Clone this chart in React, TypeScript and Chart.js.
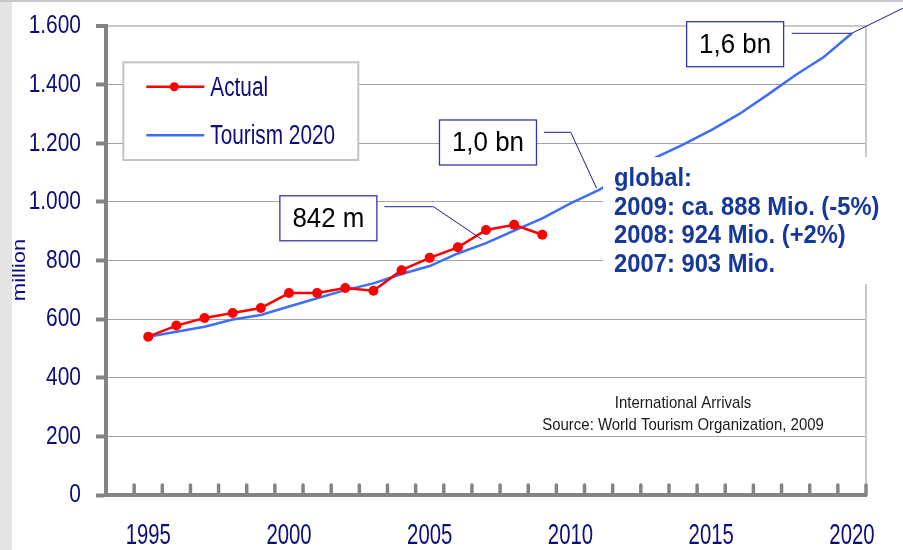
import { useEffect, useRef } from 'react';
import { Chart, registerables } from 'chart.js';

Chart.register(...registerables);

// ---------- data ----------
const YEARS_ACTUAL = [1995, 1996, 1997, 1998, 1999, 2000, 2001, 2002, 2003, 2004, 2005, 2006, 2007, 2008, 2009];
const ACTUAL = [540, 578, 604, 621, 638, 689, 689, 706, 697, 767, 809, 845, 904, 922, 888];
const YEARS_FORECAST = [1995, 1996, 1997, 1998, 1999, 2000, 2001, 2002, 2003, 2004, 2005, 2006, 2007, 2008, 2009, 2010, 2011, 2012, 2013, 2014, 2015, 2016, 2017, 2018, 2019, 2020];
const TOURISM_2020 = [540, 557, 574, 599, 614, 643, 671, 699, 722, 754, 781, 824, 859, 902, 944, 995, 1040, 1095, 1150, 1195, 1245, 1300, 1365, 1433, 1494, 1575];
const SERIES_NAMES = ['Actual', 'Tourism 2020'];
const Y_TICKS = [0, 200, 400, 600, 800, 1000, 1200, 1400, 1600];
const X_LABEL_YEARS = [1995, 2000, 2005, 2010, 2015, 2020];
const X_MIN = 1993.5;
const X_MAX = 2020.5;
const Y_TITLE = 'million';

// callouts: box centre (year, value) and leader path points (year, value)
const CALLOUT_TEXT = ['842 m', '1,0 bn', '1,6 bn'];
const CALLOUT_BOX = [[2001.4, 944], [2007.07, 1202.6], [2015.85, 1537.9]];
const CALLOUT_PATH = [
  [[2003.39, 983.6], [2005.13, 983.6], [2006.85, 872.3]],
  [[2009.06, 1237.3], [2010.01, 1237.3], [2010.93, 1046.3]],
  [[2017.86, 1575.1], [2019.99, 1575.1], [2021.81, 1660.4]],
];
const GLOBAL_NOTE = ['global:', '2009: ca. 888 Mio. (-5%)', '2008: 924 Mio. (+2%)', '2007: 903 Mio.'];
const GLOBAL_BOX = { year: 2011.16, top: 1153, bottom: 720 };
const SOURCE_NOTE = ['International Arrivals', 'Source: World Tourism Organization, 2009'];
const SOURCE_POS = { year: 2014, value: 296 };

// ---------- styles ----------
const RED = '#ff0000';
const BLUE = '#3f6ef5';
const NAVY = '#0c0c7c';
const AXIS_GRAY = '#838383';
const SANS = "'Liberation Sans', Arial, sans-serif";

function formatDE(v: number): string {
  if (v >= 1000) return Math.floor(v / 1000) + '.' + String(v % 1000).padStart(3, '0');
  return String(v);
}

function scaledText(ctx: CanvasRenderingContext2D, text: string, x: number, y: number, sx: number, align: CanvasTextAlign) {
  ctx.save();
  ctx.translate(x, y);
  ctx.scale(sx, 1);
  ctx.textAlign = align;
  ctx.fillText(text, 0, 0);
  ctx.restore();
}

const decor = {
  id: 'decor',
  beforeDraw(chart: any) {
    const ctx = chart.ctx as CanvasRenderingContext2D;
    ctx.save();
    ctx.fillStyle = '#ffffff';
    ctx.fillRect(0, 0, chart.width, chart.height);
    ctx.fillStyle = '#e4e4e4';
    ctx.fillRect(0, 0, 12, chart.height);
    ctx.fillStyle = '#c8c8c8';
    ctx.fillRect(0, 0, chart.width, 2);
    ctx.restore();
  },
  beforeDatasetsDraw(chart: any) {
    const ctx = chart.ctx as CanvasRenderingContext2D;
    const ca = chart.chartArea;
    const xs = chart.scales.x;
    const ys = chart.scales.y;
    ctx.save();
    ctx.strokeStyle = '#c8c8c8';
    ctx.lineWidth = 2;
    ctx.beginPath();
    ctx.moveTo(ca.right, ca.top);
    ctx.lineTo(ca.right, ca.bottom);
    ctx.stroke();

    // axis tick labels (condensed, like the original)
    ctx.fillStyle = NAVY;
    ctx.font = `25.5px ${SANS}`;
    ctx.textBaseline = 'alphabetic';
    ys.ticks.forEach((t: any) => {
      const py = ys.getPixelForValue(t.value);
      scaledText(ctx, formatDE(t.value), ca.left - 25, py + 7.3, 0.82, 'right');
    });
    ctx.font = `29px ${SANS}`;
    xs.ticks.forEach((t: any) => {
      const px = xs.getPixelForValue(t.value);
      scaledText(ctx, String(t.value), px, ca.bottom + 48.5, 0.7, 'center');
    });

    // axis title
    ctx.save();
    ctx.translate(18.5, (ca.top + ca.bottom) / 2 + 9.5);
    ctx.rotate(-Math.PI / 2);
    ctx.scale(1, 0.8);
    ctx.font = `22px ${SANS}`;
    ctx.textAlign = 'center';
    ctx.fillText(Y_TITLE, 0, 8);
    ctx.restore();

    ctx.restore();
  },
  afterDatasetsDraw(chart: any) {
    const ctx = chart.ctx as CanvasRenderingContext2D;
    const ca = chart.chartArea;
    const xs = chart.scales.x;
    const ys = chart.scales.y;
    ctx.save();

    // inward x ticks
    ctx.strokeStyle = AXIS_GRAY;
    ctx.lineWidth = 3.5;
    ctx.lineCap = 'round';
    for (let v = X_MIN + 1; v <= X_MAX + 0.001; v += 1) {
      const px = xs.getPixelForValue(v);
      ctx.beginPath();
      ctx.moveTo(px, ca.bottom);
      ctx.lineTo(px, ca.bottom - 10);
      ctx.stroke();
    }
    ctx.lineCap = 'butt';

    // global note box
    const gx = xs.getPixelForValue(GLOBAL_BOX.year);
    const gt = ys.getPixelForValue(GLOBAL_BOX.top);
    const gb = ys.getPixelForValue(GLOBAL_BOX.bottom);
    ctx.fillStyle = '#ffffff';
    ctx.fillRect(gx, gt, chart.width - gx, gb - gt);
    ctx.fillStyle = '#15389a';
    ctx.font = `bold 25px ${SANS}`;
    ctx.textBaseline = 'alphabetic';
    GLOBAL_NOTE.forEach((t, i) => scaledText(ctx, t, gx + 11, gt + 29 + i * 28.7, 0.95, 'left'));

    // legend
    const lx = ca.left + 17.3;
    const ly = ca.top + 36.3;
    const lw = 235;
    const lh = 97.7;
    ctx.fillStyle = '#ffffff';
    ctx.fillRect(lx, ly, lw, lh);
    ctx.strokeStyle = '#c4c4c4';
    ctx.lineWidth = 2;
    ctx.strokeRect(lx, ly, lw, lh);
    const rows = [24.4, 73];
    chart.data.datasets.forEach((ds: any, i: number) => {
      const cy = ly + rows[i];
      ctx.strokeStyle = ds.borderColor;
      ctx.lineWidth = 2.5;
      ctx.beginPath();
      ctx.moveTo(lx + 23, cy);
      ctx.lineTo(lx + 81, cy);
      ctx.stroke();
      if (ds.pointRadius > 0) {
        ctx.fillStyle = ds.pointBackgroundColor;
        ctx.beginPath();
        ctx.arc(lx + 51, cy, 4.5, 0, Math.PI * 2);
        ctx.fill();
      }
      ctx.fillStyle = NAVY;
      ctx.font = `27px ${SANS}`;
      ctx.textBaseline = 'middle';
      scaledText(ctx, ds.label, lx + 87, cy + 1.5, 0.77, 'left');
    });

    // callouts
    CALLOUT_TEXT.forEach((t, i) => {
      const cx = xs.getPixelForValue(CALLOUT_BOX[i][0]);
      const cy = ys.getPixelForValue(CALLOUT_BOX[i][1]);
      const w = 97;
      const h = 45;
      ctx.fillStyle = '#ffffff';
      ctx.fillRect(cx - w / 2, cy - h / 2, w, h);
      ctx.strokeStyle = '#3535b0';
      ctx.lineWidth = 1.3;
      ctx.strokeRect(cx - w / 2, cy - h / 2, w, h);
      ctx.fillStyle = '#000000';
      ctx.font = `28px ${SANS}`;
      ctx.textBaseline = 'middle';
      scaledText(ctx, t, cx, cy + 1, 0.925, 'center');
      ctx.strokeStyle = '#1e1e8e';
      ctx.lineWidth = 1;
      ctx.beginPath();
      CALLOUT_PATH[i].forEach((p, j) => {
        const px = xs.getPixelForValue(p[0]);
        const py = ys.getPixelForValue(p[1]);
        if (j === 0) ctx.moveTo(px, py);
        else ctx.lineTo(px, py);
      });
      ctx.stroke();
    });

    // source note
    ctx.fillStyle = '#1a1a1a';
    ctx.font = `17px ${SANS}`;
    ctx.textBaseline = 'alphabetic';
    const sx = xs.getPixelForValue(SOURCE_POS.year);
    const sy = ys.getPixelForValue(SOURCE_POS.value);
    SOURCE_NOTE.forEach((t, i) => scaledText(ctx, t, sx, sy + i * 21.7, 0.88, 'center'));

    ctx.restore();
  },
};

export default function App() {
  const ref = useRef<HTMLCanvasElement>(null);
  useEffect(() => {
    document.body.style.margin = '0';
    const canvas = ref.current!;
    const chart = new Chart(canvas, {
      type: 'line',
      data: {
        datasets: [
          {
            label: SERIES_NAMES[0],
            data: YEARS_ACTUAL.map((x, i) => ({ x, y: ACTUAL[i] })),
            borderColor: RED,
            backgroundColor: RED,
            borderWidth: 2.5,
            pointRadius: 5,
            pointBorderWidth: 0,
            pointBackgroundColor: RED,
            tension: 0,
          },
          {
            label: SERIES_NAMES[1],
            data: YEARS_FORECAST.map((x, i) => ({ x, y: TOURISM_2020[i] })),
            borderColor: BLUE,
            backgroundColor: BLUE,
            borderWidth: 2.5,
            pointRadius: 0,
            tension: 0,
          },
        ],
      },
      options: {
        animation: false,
        responsive: false,
        devicePixelRatio: 1,
        layout: { padding: { left: 0, top: 26, right: 37, bottom: 0 } },
        plugins: { legend: { display: false }, tooltip: { enabled: false } },
        scales: {
          x: {
            type: 'linear',
            min: X_MIN,
            max: X_MAX,
            afterBuildTicks: (s: any) => {
              s.ticks = X_LABEL_YEARS.map((v) => ({ value: v }));
            },
            afterFit: (s: any) => {
              s.height = 55;
            },
            grid: { display: false },
            border: { display: true, color: AXIS_GRAY, width: 4 },
            ticks: { display: false, autoSkip: false },
          },
          y: {
            type: 'linear',
            min: 0,
            max: 1600,
            afterBuildTicks: (s: any) => {
              s.ticks = Y_TICKS.map((v) => ({ value: v }));
            },
            afterFit: (s: any) => {
              s.width = 106;
            },
            grid: {
              color: (c: any) => (c.tick && c.tick.value === 1600 ? '#c8c8c8' : '#a3a3a3'),
              lineWidth: (c: any) => (c.tick && c.tick.value === 1600 ? 2 : 1),
              tickColor: AXIS_GRAY,
              tickWidth: 4,
              tickLength: 10,
            },
            border: { display: true, color: AXIS_GRAY, width: 4 },
            ticks: { display: false },
          },
        },
      },
      plugins: [decor],
    } as any);
    return () => chart.destroy();
  }, []);
  return (
    <div style={{ position: 'relative', width: 903, height: 550 }}>
      <canvas ref={ref} width={903} height={550} style={{ display: 'block', width: 903, height: 550 }} />
    </div>
  );
}
